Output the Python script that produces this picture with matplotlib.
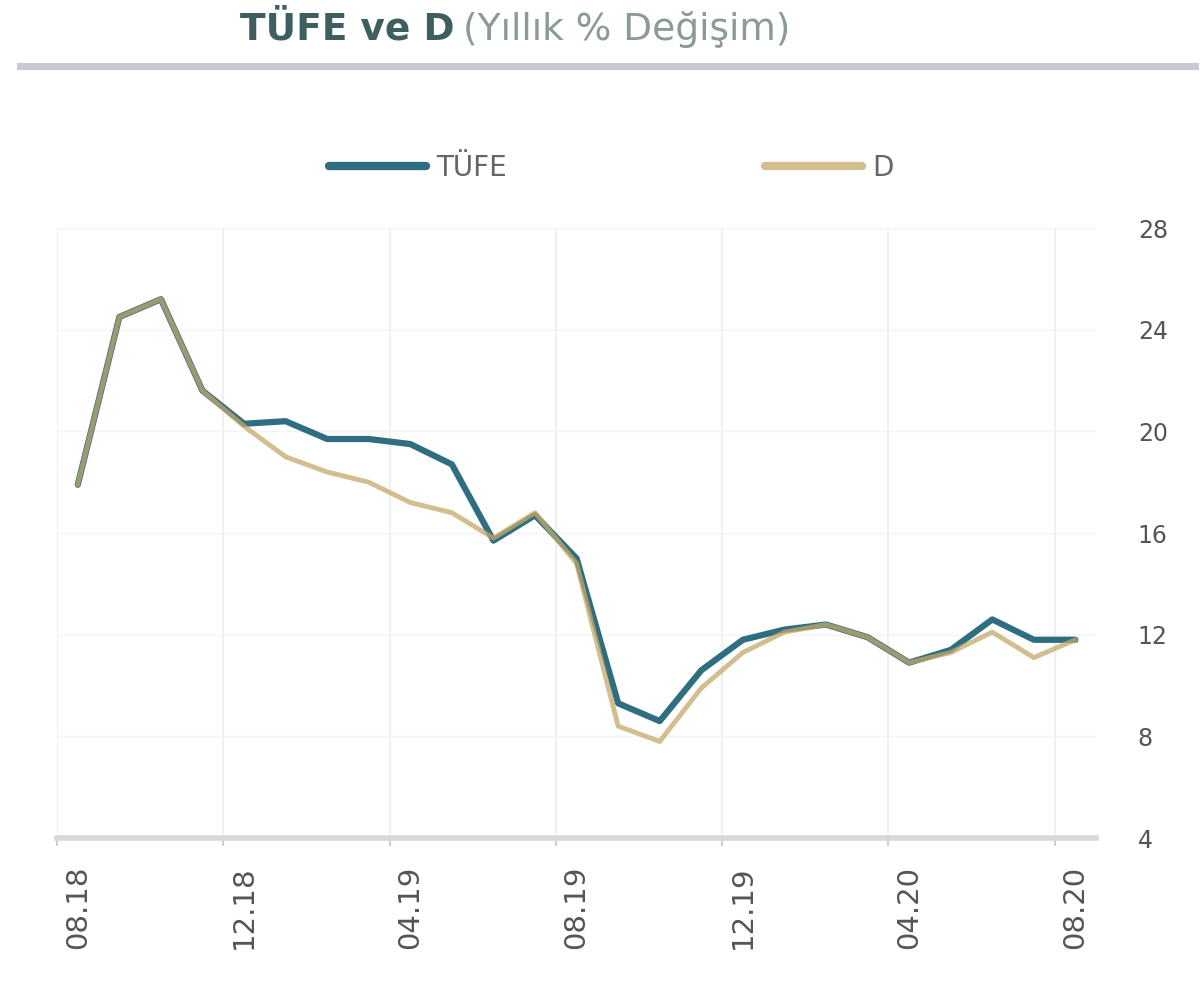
import matplotlib
matplotlib.use("Agg")
import matplotlib.pyplot as plt
from matplotlib.lines import Line2D

months = ["08.18", "09.18", "10.18", "11.18", "12.18", "01.19", "02.19", "03.19",
          "04.19", "05.19", "06.19", "07.19", "08.19", "09.19", "10.19", "11.19",
          "12.19", "01.20", "02.20", "03.20", "04.20", "05.20", "06.20", "07.20", "08.20"]
tufe = [17.9, 24.5, 25.2, 21.6, 20.3, 20.4, 19.7, 19.7, 19.5, 18.7, 15.7, 16.7, 15.0,
        9.3, 8.6, 10.6, 11.8, 12.2, 12.4, 11.9, 10.9, 11.4, 12.6, 11.8, 11.8]
d_index = [17.9, 24.5, 25.2, 21.6, 20.2, 19.0, 18.4, 18.0, 17.2, 16.8, 15.8, 16.8, 14.8,
           8.4, 7.8, 9.9, 11.3, 12.1, 12.4, 11.9, 10.9, 11.3, 12.1, 11.1, 11.8]
tick_idx = [0, 4, 8, 12, 16, 20, 24]
yticks = [4, 8, 12, 16, 20, 24, 28]

fig = plt.figure(figsize=(12, 9.83), dpi=100)
ax = fig.add_axes([0.0475, 0.1475, 0.866, 0.6205])

x = list(range(len(months)))
ax.plot(x, tufe, color="#2f6e80", lw=4.5, solid_capstyle="round", label="TÜFE", zorder=3)
ax.plot(x, d_index, color="#c4a868", lw=3.5, alpha=0.75, solid_capstyle="round", label="D", zorder=4)

ax.set_xlim(-0.5, len(months) - 0.5)
ax.set_ylim(4, 28)
ax.set_yticks(yticks)
ax.yaxis.tick_right()
ax.tick_params(axis="y", length=0, labelsize=17, labelcolor="#555555", pad=30)
ax.set_xticks(tick_idx)
ax.set_xticklabels([months[i] for i in tick_idx], rotation=90, fontsize=21, color="#555555")
ax.tick_params(axis="x", length=0, pad=20)
ax.set_xticks([i - 0.5 for i in tick_idx], minor=True)
ax.tick_params(axis="x", which="minor", length=6, color="#d0d0d0", width=1.5)
ax.grid(False)
for i in tick_idx:
    ax.axvline(i - 0.5, color="#eeeeee", lw=1.2, zorder=0)
for yv in yticks[1:]:
    ax.axhline(yv, color="#f4f4f4", lw=1.0, zorder=0)
for s in ["top", "right", "left"]:
    ax.spines[s].set_visible(False)
ax.spines["bottom"].set_color("#d8d8d8")
ax.spines["bottom"].set_linewidth(4)

leg = ax.legend(loc="center", bbox_to_anchor=(611 / 1200, 1 - 168 / 983),
                bbox_transform=fig.transFigure, ncol=2, frameon=False,
                handlelength=3.5, columnspacing=9.3, fontsize=20, handletextpad=0.36)
for t in leg.get_texts():
    t.set_color("#666666")
for h in leg.get_lines():
    h.set_linewidth(6)

t1 = fig.text(240 / 1200, 1 - 30 / 983, "TÜFE ve D", fontsize=27, fontweight="bold",
              color="#3d5f5f", va="center", ha="left")
fig.canvas.draw()
bb = t1.get_window_extent(fig.canvas.get_renderer())
fig.text(bb.x1 / 1200 + 8 / 1200, 1 - 30 / 983, "(Yıllık % Değişim)", fontsize=27,
         color="#8a9a9a", va="center", ha="left")

fig.add_artist(Line2D([20 / 1200, 1195 / 1200], [1 - 66 / 983, 1 - 66 / 983],
                      color="#c8c8d2", lw=5, transform=fig.transFigure))

fig.savefig("out.png", dpi=100, facecolor="white")
